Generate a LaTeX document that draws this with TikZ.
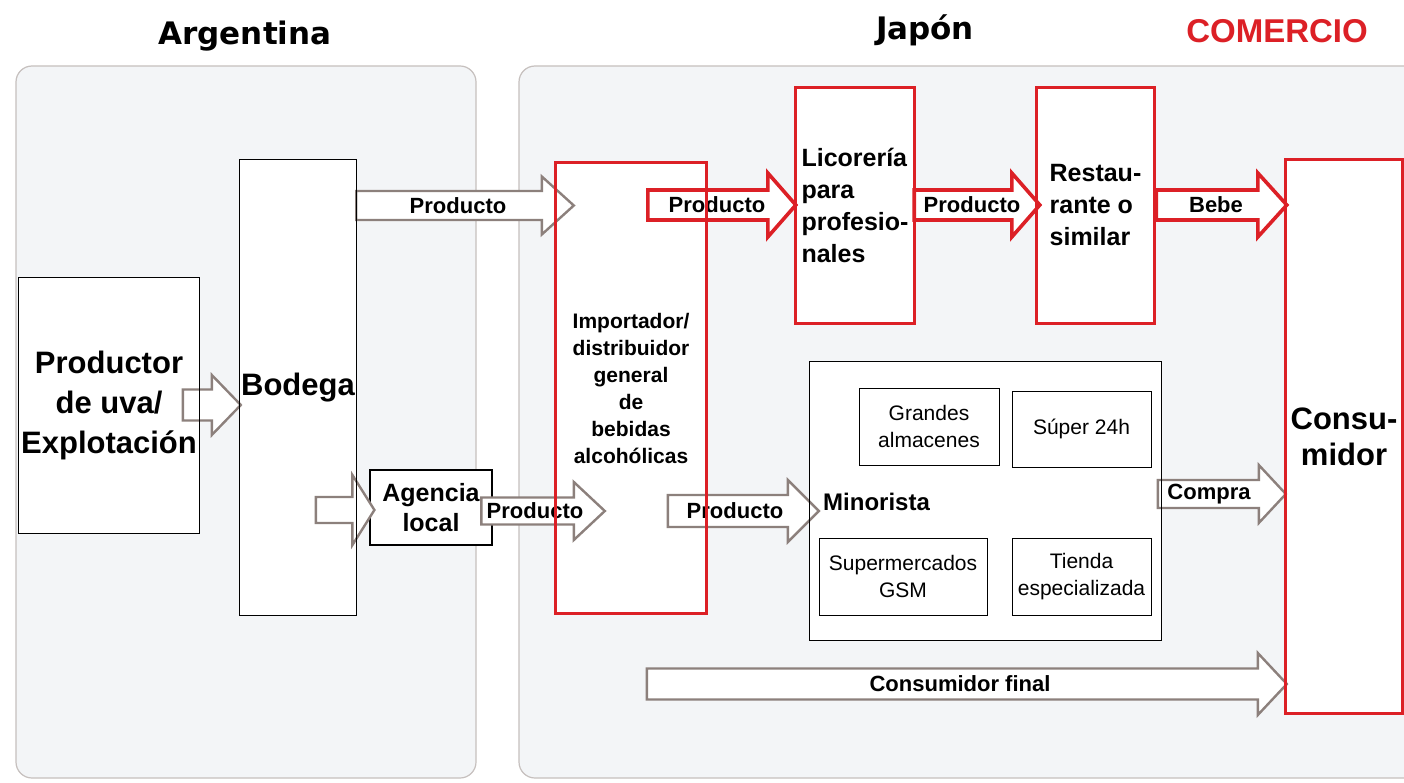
\documentclass[tikz,border=0pt]{standalone}
\usepackage{fontspec}
\setmainfont{Liberation Sans}
\newfontfamily\titlefont{DejaVu Sans}
\usetikzlibrary{calc}
\definecolor{redc}{RGB}{220,32,38}
\definecolor{arrgray}{RGB}{140,128,124}
\definecolor{panelfill}{RGB}{243,245,247}
\definecolor{panelline}{RGB}{198,192,190}
\tikzset{
  panel/.style={draw=panelline, line width=1.2pt, fill=panelfill, rounded corners=16pt},
  boxfill/.style={fill=white, inner sep=0pt, align=center},
  blackline/.style={draw=black, line width=1.2pt},
  thinline/.style={draw=black, line width=1pt},
  redline/.style={draw=redc, line width=3.2pt},
  grayarr/.style={draw=arrgray, line width=2.4pt, fill=white, line join=miter},
  redarr/.style={draw=redc, line width=3.6pt, fill=white, line join=miter},
  lbl/.style={font=\bfseries\fontsize{22}{24}\selectfont, inner sep=0pt},
  bigtxt/.style={font=\bfseries\fontsize{31}{40}\selectfont},
  redtxt/.style={font=\bfseries\fontsize{25}{32}\selectfont, align=left},
  imptxt/.style={font=\bfseries\fontsize{21}{27}\selectfont},
  agtxt/.style={font=\bfseries\fontsize{25}{30}\selectfont},
  subtxt/.style={font=\fontsize{21}{27}\selectfont},
  titletxt/.style={font=\titlefont\bfseries\fontsize{31}{36}\selectfont, anchor=base, inner sep=0pt},
}
% #1 style, #2 start anchor, #3 start dx, #4 end anchor, #5 end dx, #6 y, #7 head length, #8 shaft half, #9 head half
\newcommand\blockarr[9]{%
  \draw[#1] let \p1=(#2), \p2=(#4), \p3=(0,#6) in
  ({\x1+#3},{\y3+#8}) -- ({\x2+#5-#7},{\y3+#8}) -- ({\x2+#5-#7},{\y3+#9}) -- ({\x2+#5},\y3)
  -- ({\x2+#5-#7},{\y3-#9}) -- ({\x2+#5-#7},{\y3-#8}) -- ({\x1+#3},{\y3-#8}) -- cycle;}
\newcommand\outline[2]{\draw[#1] (#2.north west) rectangle (#2.south east);}
\begin{document}
\begin{tikzpicture}[x=1pt,y=-1pt]
\clip (0,0) rectangle (1404,783);
\fill[white] (0,0) rectangle (1404,783);
% panels
\draw[panel] (16,66) rectangle (476,778);
\draw[panel] (519,66) rectangle (1440,778);
% titles
\node[titletxt] (tA) at (245,45) {Argentina};
\node[titletxt] (tJ) at (925,40) {Japón};
\node[font=\bfseries\fontsize{33}{36}\selectfont, text=redc, anchor=base, inner sep=0pt] (tC) at (1277,43) {COMERCIO};
% boxes (fills and texts)
\node[boxfill, bigtxt, minimum width=180, minimum height=255] (prod) at (109,405.5) {Productor\\de uva/\\Explotación};
\node[boxfill, bigtxt, minimum width=116, minimum height=455] (bod) at (298,387.5) {Bodega};
\node[boxfill, agtxt, blackline, minimum width=122, minimum height=75] (ag) at (431,507.5) {Agencia\\local};
\node[boxfill, imptxt, minimum width=150, minimum height=450] (imp) at (631,388) {Importador/\\distribuidor\\general\\de\\bebidas\\alcohólicas};
\node[boxfill, redtxt, minimum width=118, minimum height=235] (lic) at (855,205.5) {Licorería\\para\\profesio-\\nales};
\node[boxfill, redtxt, minimum width=117, minimum height=235] (res) at (1095.5,205.5) {Restau-\\rante o\\similar};
\node[boxfill, bigtxt, font=\bfseries\fontsize{31}{36}\selectfont, minimum width=116, minimum height=553] (con) at (1344,436.5) {Consu-\\midor};
\node[boxfill, minimum width=351, minimum height=278] (min) at (985.5,501) {};
% arrows
\blockarr{grayarr}{prod.west}{164pt}{bod.west}{1pt}{405}{29pt}{15.5pt}{30pt}
\blockarr{grayarr}{bod.east}{0pt}{imp.west}{18pt}{205.5}{32pt}{14.5pt}{29pt}
\blockarr{grayarr}{bod.west}{76pt}{ag.west}{5pt}{510}{22pt}{13pt}{35pt}
\blockarr{grayarr}{ag.west}{112pt}{imp.west}{49pt}{511}{31pt}{13.5pt}{29pt}
\blockarr{grayarr}{imp.west}{112pt}{min.west}{9pt}{511}{31pt}{16pt}{31pt}
\blockarr{grayarr}{min.west}{348pt}{con.west}{0pt}{494}{27pt}{14pt}{29pt}
\blockarr{grayarr}{imp.west}{91pt}{con.west}{1pt}{684}{29pt}{15.5pt}{31pt}
\blockarr{redarr}{imp.west}{92pt}{lic.west}{0pt}{205}{28pt}{15pt}{32pt}
\blockarr{redarr}{lic.east}{0pt}{res.west}{3pt}{205}{28pt}{15pt}{32pt}
\blockarr{redarr}{res.east}{2pt}{con.west}{1pt}{205}{29pt}{15pt}{32pt}
% arrow labels
\node[lbl] (l1) at (458,205.5) {Producto};
\node[lbl] (l2) at (535,511) {Producto};
\node[lbl] (l3) at (735,511) {Producto};
\node[lbl] (l4) at (717,205) {Producto};
\node[lbl] (l5) at (972,205) {Producto};
\node[lbl] (l6) at (1216,205) {Bebe};
\node[lbl] (l7) at (1209,494) {Compra};
\node[lbl] (l8) at (960,684) {Consumidor final};
% outlines
\outline{thinline}{prod}
\outline{thinline}{bod}
\outline{redline}{imp}
\outline{redline}{lic}
\outline{redline}{res}
\outline{redline}{con}
\outline{blackline}{min}
% retail sub-boxes
\node[boxfill, subtxt, thinline, minimum width=140, minimum height=77] (gr) at (929,426.5) {Grandes\\almacenes};
\node[boxfill, subtxt, thinline, minimum width=139, minimum height=76] (su) at (1081.5,429) {Súper 24h};
\node[boxfill, subtxt, thinline, minimum width=168, minimum height=77] (gs) at (903,576.5) {Supermercados\\GSM};
\node[boxfill, subtxt, thinline, minimum width=139, minimum height=77] (ti) at (1081.5,576.5) {Tienda\\especializada};
\node[font=\bfseries\fontsize{24}{28}\selectfont, anchor=west, inner sep=0pt] (mtxt) at (823,502) {Minorista};
\end{tikzpicture}
\end{document}
